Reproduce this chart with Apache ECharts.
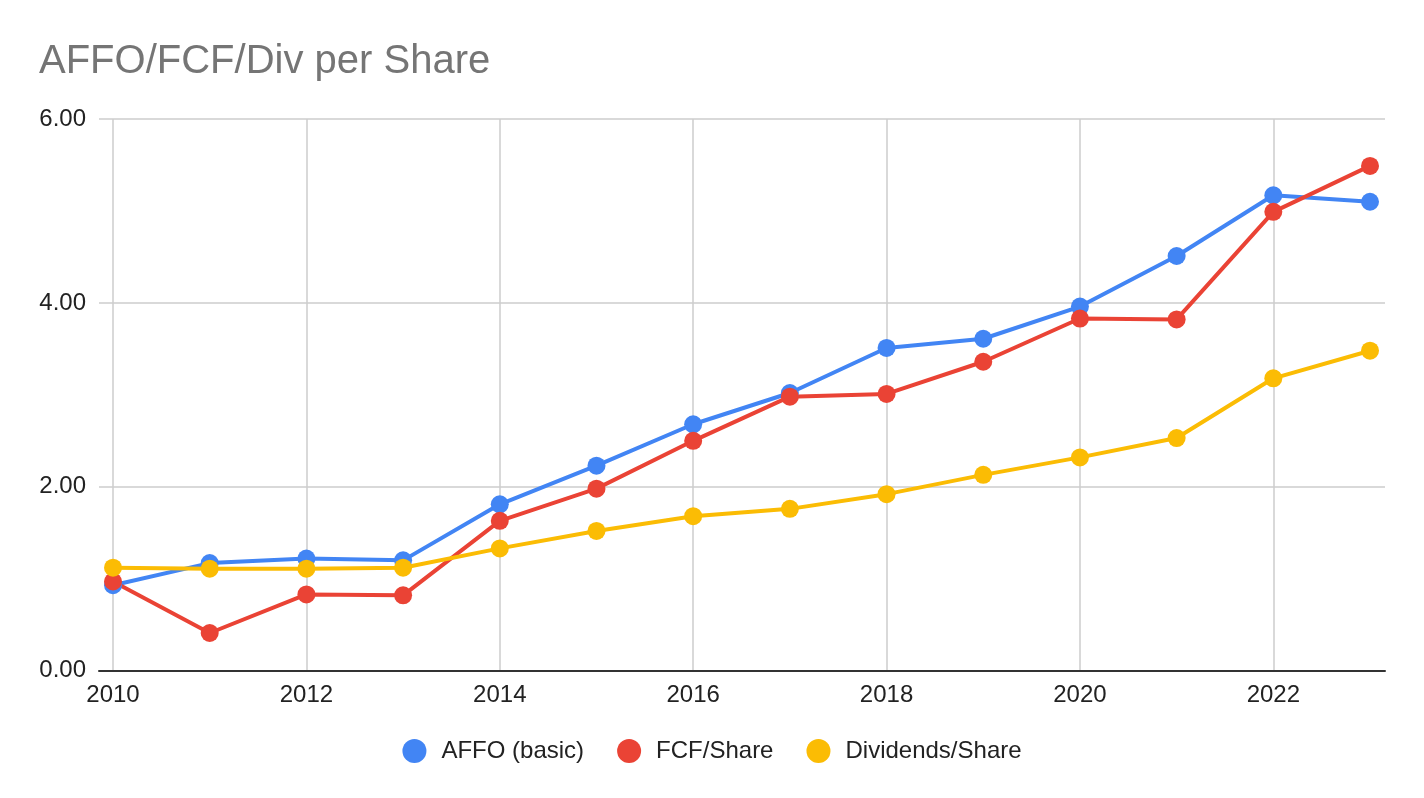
<!DOCTYPE html>
<html>
<head>
<meta charset="utf-8">
<script src="https://cdn.jsdelivr.net/npm/echarts@6/dist/echarts.min.js"></script>
<style>
html,body{margin:0;padding:0;background:#fff;}
#chart{width:1424px;height:798px;}
</style>
</head>
<body>
<div id="chart"></div>
<script>
const years = [2010, 2011, 2012, 2013, 2014, 2015, 2016, 2017, 2018, 2019, 2020, 2021, 2022, 2023];
const affo = [0.93, 1.17, 1.22, 1.20, 1.81, 2.23, 2.68, 3.02, 3.51, 3.61, 3.96, 4.51, 5.17, 5.10];
const fcf = [0.97, 0.41, 0.83, 0.82, 1.63, 1.98, 2.50, 2.98, 3.01, 3.36, 3.83, 3.82, 4.99, 5.49];
const divs = [1.12, 1.11, 1.11, 1.12, 1.33, 1.52, 1.68, 1.76, 1.92, 2.13, 2.32, 2.53, 3.18, 3.48];
const xTicks = [2010, 2012, 2014, 2016, 2018, 2020, 2022];
const seriesNames = ['AFFO (basic)', 'FCF/Share', 'Dividends/Share'];
const colors = ['#4285F4', '#EA4335', '#FBBC04'];

const chart = echarts.init(document.getElementById('chart'));
const font = 'Liberation Sans, Arial, sans-serif';
function mk(name, vals, color) {
  return {
    name: name,
    type: 'line',
    data: years.map((y, i) => [y, vals[i]]),
    symbol: 'circle',
    symbolSize: 18,
    lineStyle: { width: 4, color: color },
    itemStyle: { color: color },
    animation: false
  };
}
chart.setOption({
  animation: false,
  backgroundColor: '#fff',
  title: {
    text: 'AFFO/FCF/Div per Share',
    left: 34,
    top: 37,
    textStyle: { fontFamily: font, fontSize: 40, fontWeight: 'normal', color: '#757575' }
  },
  legend: {
    data: seriesNames,
    left: 'center',
    top: 734,
    icon: 'circle',
    itemWidth: 24,
    itemHeight: 24,
    itemGap: 33,
    textStyle: { fontFamily: font, fontSize: 24, color: '#222', padding: [0, 0, 0, 10] }
  },
  grid: { left: 99, right: 39, top: 119, bottom: 127.3, containLabel: false },
  xAxis: {
    type: 'value',
    min: 2009.855,
    max: 2023.155,
    axisLine: { show: true, onZero: false, lineStyle: { color: '#333', width: 2 } },
    axisTick: { show: false, customValues: xTicks },
    axisLabel: {
      customValues: xTicks,
      margin: 13,
      fontFamily: font, fontSize: 24, color: '#222',
      formatter: v => String(v)
    },
    splitLine: { show: true, lineStyle: { color: '#cccccc', width: 1.5 } }
  },
  yAxis: {
    type: 'value',
    min: 0,
    max: 6,
    interval: 2,
    axisLine: { show: false },
    axisTick: { show: false },
    axisLabel: {
      margin: 13,
      fontFamily: font, fontSize: 24, color: '#222',
      formatter: v => v.toFixed(2)
    },
    splitLine: { show: true, lineStyle: { color: '#cccccc', width: 1.5 } }
  },
  series: [
    mk(seriesNames[0], affo, colors[0]),
    mk(seriesNames[1], fcf, colors[1]),
    mk(seriesNames[2], divs, colors[2])
  ]
});
</script>
</body>
</html>
